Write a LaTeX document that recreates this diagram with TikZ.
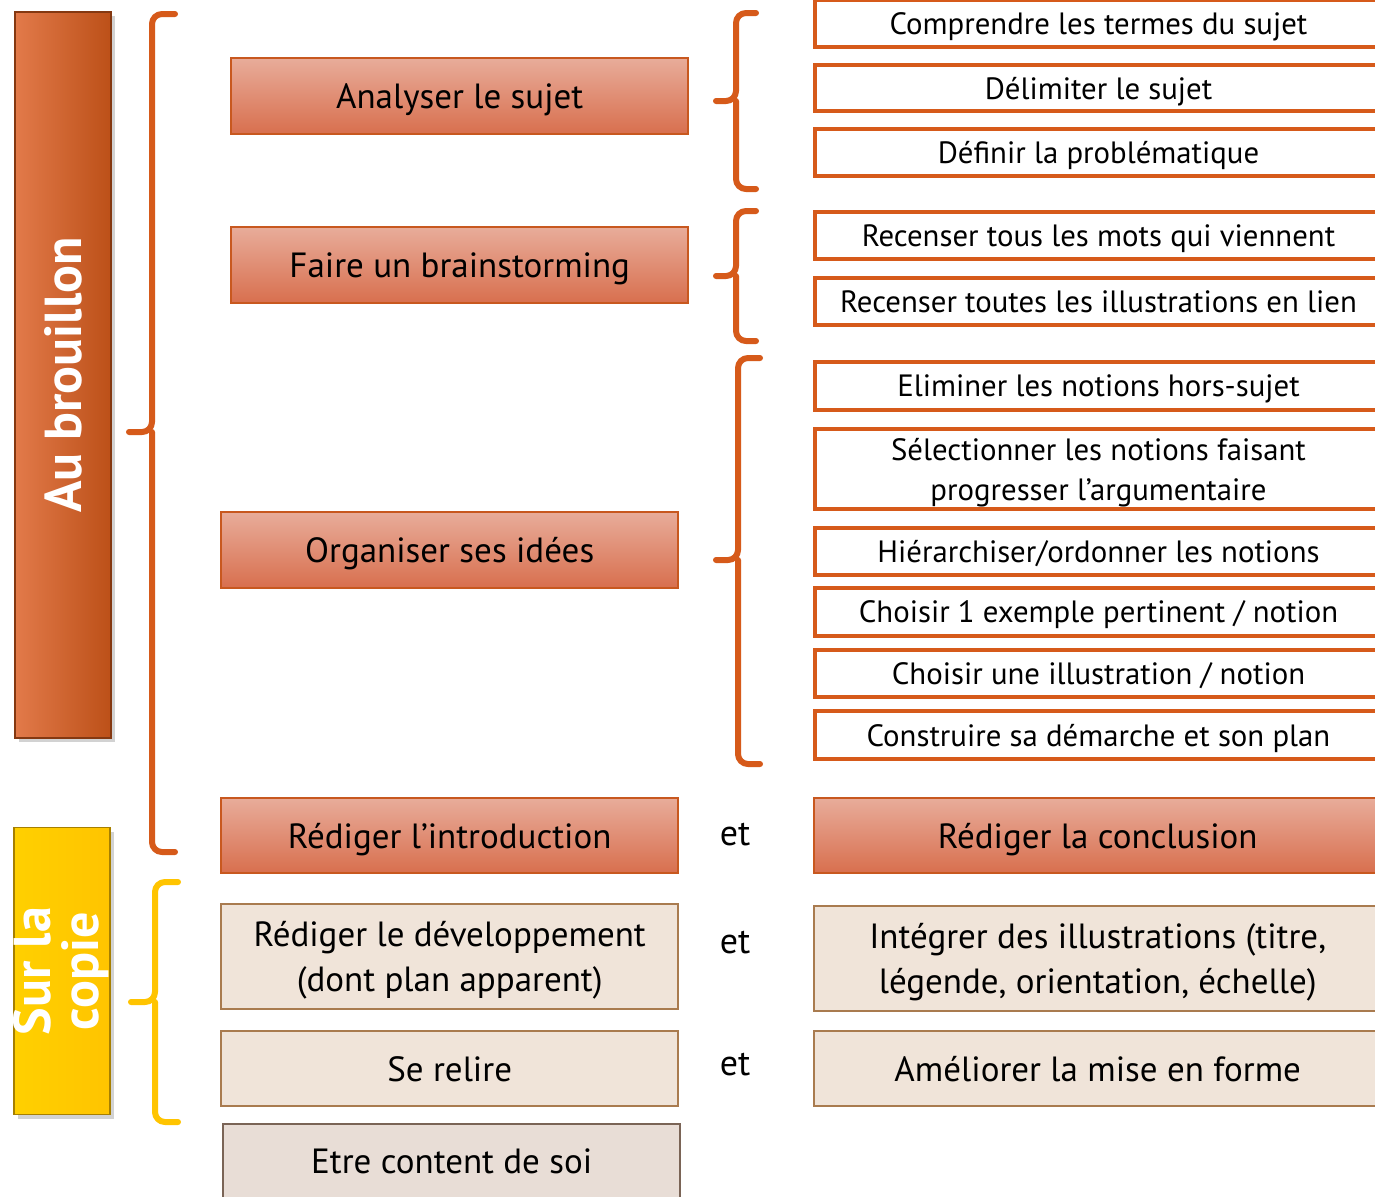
\documentclass[tikz,border=0pt]{standalone}
\usepackage{fontspec}
\setmainfont{PT Sans}
\usetikzlibrary{shadows}
\definecolor{rouille}{HTML}{D65A1A}
\definecolor{brique}{HTML}{C8581F}
\definecolor{saumonh}{HTML}{E8AC9A}
\definecolor{saumonb}{HTML}{D86F4E}
\definecolor{beige}{HTML}{F0E4D9}
\definecolor{brun}{HTML}{A97B4F}
\definecolor{grege}{HTML}{E8DDD6}
\definecolor{taupe}{HTML}{7A6456}
\definecolor{jaune}{HTML}{FFC400}
\definecolor{cuivreg}{HTML}{E27A4A}
\definecolor{cuivred}{HTML}{BC5018}
\tikzset{
  boite/.style={anchor=north west,inner sep=0pt,align=center,minimum width=228.5pt,text depth=0pt},
  etape/.style={boite,draw=brique,line width=1.2pt,top color=saumonh,bottom color=saumonb,
    font=\fontsize{17.5}{22.5}\selectfont},
  redac/.style={boite,draw=brun,line width=1.2pt,fill=beige,font=\fontsize{17.5}{22.5}\selectfont},
  tache/.style={boite,draw=rouille,line width=2pt,fill=white,minimum width=283.5pt,
    font=\fontsize{15.4}{20}\selectfont},
  bandeau/.style={inner sep=0pt,minimum width=48pt,text=white,
    font=\fontsize{26}{30}\selectfont\bfseries,
    drop shadow={opacity=.35,shadow xshift=2pt,shadow yshift=-2pt}},
  accolade/.style={draw=rouille,line width=3pt,line cap=round,line join=round,rounded corners=5pt},
}
\begin{document}
\begin{tikzpicture}[x=.5pt,y=-.5pt]
\useasboundingbox[fill=white](0,0)rectangle(1375,1196);
% bandeaux de gauche
\node[bandeau,minimum height=363pt,left color=cuivreg,right color=cuivred,draw=cuivred!70!black,line width=.6pt]
  (brouillon) at (63,375) {\rotatebox{90}{Au brouillon}};
\node[bandeau,minimum height=143.5pt,left color=jaune!80!yellow,right color=jaune,draw=jaune!65!black,line width=.6pt]
  (copie) at (62,971) {\makebox[40pt]{\rotatebox{90}{\begin{tabular}{@{}c@{}}Sur la\\[-6pt]copie\end{tabular}}}};
% accolades
\foreach \xv/\ya/\ym/\yb/\d in {152/14/432/852/23,736/13/101/189/20,736/211/276/341/20,738/358/560/764/22}
  \draw[accolade](\xv+\d,\ya)--(\xv,\ya)--(\xv,\ym)--(\xv-\d,\ym)(\xv,\ym)--(\xv,\yb)--(\xv+\d,\yb);
\draw[accolade,draw=jaune](178,882)--(155,882)--(155,1002)--(131,1002)(155,1002)--(155,1122)--(178,1122);
% colonne du milieu
\node[etape,minimum height=38pt] (analyse) at (230,57) {Analyser le sujet};
\node[etape,minimum height=38pt] (brainstorm) at (230,226) {Faire un brainstorming};
\node[etape,minimum height=38pt] (organiser) at (220,511) {Organiser ses idées};
\node[etape,minimum height=37.5pt] (intro) at (220,797) {Rédiger l’introduction};
\node[redac,minimum height=52.5pt] (dvpt) at (220,903) {Rédiger le développement\\(dont plan apparent)};
\node[redac,minimum height=37.5pt] (relire) at (220,1030) {Se relire};
\node[redac,draw=taupe,fill=grege,minimum height=40pt] (content) at (222,1123) {\raisebox{3pt}{Etre content de soi}};
\node[font=\fontsize{18}{20}\selectfont] (et1) at (735,834) {et};
\node[font=\fontsize{18}{20}\selectfont] (et2) at (735,942) {et};
\node[font=\fontsize{18}{20}\selectfont] (et3) at (735,1064) {et};
% colonne de droite
\node[tache,minimum height=23.5pt] (termes) at (813,-2) {Comprendre les termes du sujet};
\node[tache,minimum height=23pt] (delimiter) at (813,63) {Délimiter le sujet};
\node[tache,minimum height=23.5pt] (problematique) at (813,127) {Définir la problématique};
\node[tache,minimum height=23.5pt] (mots) at (813,210) {Recenser tous les mots qui viennent};
\node[tache,minimum height=23.5pt] (illus) at (813,276) {Recenser toutes les illustrations en lien};
\node[tache,minimum height=24pt] (eliminer) at (813,360) {Eliminer les notions hors-sujet};
\node[tache,minimum height=40pt] (selection) at (813,427) {Sélectionner les notions faisant\\progresser l’argumentaire};
\node[tache,minimum height=23.5pt] (hierarchie) at (813,526) {Hiérarchiser/ordonner les notions};
\node[tache,minimum height=24pt] (exemple) at (813,586) {Choisir 1 exemple pertinent / notion};
\node[tache,minimum height=23.5pt] (illustration) at (813,648) {Choisir une illustration / notion};
\node[tache,minimum height=24pt] (plan) at (813,709) {Construire sa démarche et son plan};
\node[etape,minimum width=283.5pt,minimum height=37.5pt] (conclusion) at (813,797) {Rédiger la conclusion};
\node[redac,minimum width=283.5pt,minimum height=52.5pt] (integrer) at (813,905) {Intégrer des illustrations (titre,\\légende, orientation, échelle)};
\node[redac,minimum width=283.5pt,minimum height=37.5pt] (forme) at (813,1030) {Améliorer la mise en forme};
\end{tikzpicture}
\end{document}
